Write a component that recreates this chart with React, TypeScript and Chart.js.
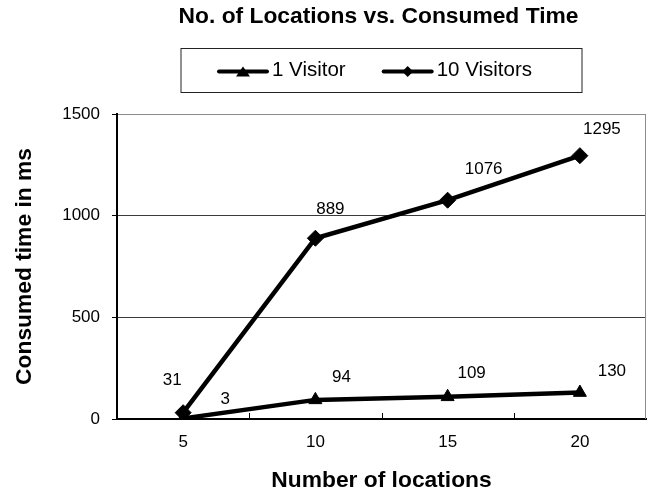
import { useEffect, useRef } from 'react';
import { Chart, registerables } from 'chart.js';

Chart.register(...registerables);

const FONT = '"Liberation Sans", Arial, Helvetica, sans-serif';

const chartTitle = 'No. of Locations vs. Consumed Time';
const locations = ['5', '10', '15', '20'];
const oneVisitor = [3, 94, 109, 130];
const tenVisitors = [31, 889, 1076, 1295];
const yTickValues = [0, 500, 1000, 1500];

// where each value label sits relative to its marker (dx, dy in px)
const oneVisitorLabelShift = [[42, -19], [26, -23], [24, -24], [32, -21]];
const tenVisitorsLabelShift = [[-11, -32], [15, -29], [36, -31], [22, -26]];

function drawTriangle(ctx: CanvasRenderingContext2D, x: number, y: number, w: number, h: number) {
  ctx.beginPath();
  ctx.moveTo(x, y - h / 2);
  ctx.lineTo(x + w / 2, y + h / 2);
  ctx.lineTo(x - w / 2, y + h / 2);
  ctx.closePath();
  ctx.fill();
}

function drawDiamond(ctx: CanvasRenderingContext2D, x: number, y: number, r: number) {
  ctx.beginPath();
  ctx.moveTo(x, y - r);
  ctx.lineTo(x + r, y);
  ctx.lineTo(x, y + r);
  ctx.lineTo(x - r, y);
  ctx.closePath();
  ctx.fill();
}

// Title and boxed legend above the plot
const headerPlugin = {
  id: 'header',
  afterDraw(chart: any) {
    const { ctx, chartArea } = chart;
    const cx = (chartArea.left + chartArea.right) / 2;
    ctx.save();
    ctx.fillStyle = '#000';
    ctx.font = `bold 22.8px ${FONT}`;
    ctx.textAlign = 'center';
    ctx.textBaseline = 'alphabetic';
    ctx.fillText(chartTitle, cx - 3, 23);

    // legend frame
    const boxL = cx - 200.5;
    const boxR = cx + 200.5;
    const boxT = 48.5;
    const boxB = 92.5;
    ctx.strokeStyle = '#222';
    ctx.lineWidth = 1;
    ctx.strokeRect(boxL, boxT, boxR - boxL, boxB - boxT);

    const ly = 71.5;
    let x = boxL + 38;
    ctx.font = `20.5px ${FONT}`;
    ctx.textAlign = 'left';
    ctx.textBaseline = 'middle';
    chart.data.datasets.forEach((ds: any) => {
      ctx.strokeStyle = '#000';
      ctx.lineWidth = 4;
      ctx.lineCap = 'round';
      ctx.beginPath();
      ctx.moveTo(x, ly);
      ctx.lineTo(x + 48, ly);
      ctx.stroke();
      ctx.fillStyle = '#000';
      if (ds.pointStyle === 'triangle') drawTriangle(ctx, x + 24, ly, 14, 10);
      else drawDiamond(ctx, x + 24, ly, 5.5);
      ctx.fillText(ds.label, x + 53, ly - 1);
      x += 53 + ctx.measureText(ds.label).width + 38;
    });
    ctx.restore();
  },
};

// Right frame edge and inward category tick marks
const framePlugin = {
  id: 'frame',
  beforeDatasetsDraw(chart: any) {
    const { ctx, chartArea } = chart;
    const xs = chart.scales.x;
    ctx.save();
    ctx.strokeStyle = '#8c8c8c';
    ctx.lineWidth = 1;
    ctx.beginPath();
    ctx.moveTo(Math.round(chartArea.right) - 0.5, chartArea.top);
    ctx.lineTo(Math.round(chartArea.right) - 0.5, chartArea.bottom);
    ctx.stroke();

    ctx.strokeStyle = '#000';
    ctx.beginPath();
    for (let i = 1; i < locations.length; i++) {
      const bx = Math.round((xs.getPixelForValue(i - 1) + xs.getPixelForValue(i)) / 2) + 0.5;
      ctx.moveTo(bx, chartArea.bottom);
      ctx.lineTo(bx, chartArea.bottom - 6);
    }
    ctx.stroke();
    ctx.restore();
  },
};

// Value labels next to each marker
const valueLabelPlugin = {
  id: 'valueLabels',
  afterDatasetsDraw(chart: any) {
    const { ctx } = chart;
    ctx.save();
    ctx.fillStyle = '#000';
    ctx.font = `17px ${FONT}`;
    ctx.textAlign = 'center';
    ctx.textBaseline = 'middle';
    chart.data.datasets.forEach((ds: any, di: number) => {
      const meta = chart.getDatasetMeta(di);
      const shifts = ds.labelShift as number[][];
      meta.data.forEach((pt: any, i: number) => {
        const [dx, dy] = shifts[i];
        ctx.fillText(String(ds.data[i]), pt.x + dx, pt.y + dy);
      });
    });
    ctx.restore();
  },
};

export default function App() {
  const canvasRef = useRef<HTMLCanvasElement | null>(null);

  useEffect(() => {
    document.body.style.margin = '0';
    const canvas = canvasRef.current;
    if (!canvas) return;

    const chart = new Chart(canvas, {
      type: 'line',
      data: {
        labels: locations,
        datasets: [
          {
            label: '1 Visitor',
            data: oneVisitor,
            borderColor: '#000',
            backgroundColor: '#000',
            borderWidth: 4.5,
            pointStyle: 'triangle',
            pointRadius: 7.5,
            pointBorderWidth: 1,
            pointBackgroundColor: '#000',
            pointBorderColor: '#000',
            tension: 0,
            labelShift: oneVisitorLabelShift,
          } as any,
          {
            label: '10 Visitors',
            data: tenVisitors,
            borderColor: '#000',
            backgroundColor: '#000',
            borderWidth: 4.5,
            pointStyle: 'rectRot',
            pointRadius: 8,
            pointBorderWidth: 1,
            pointBackgroundColor: '#000',
            pointBorderColor: '#000',
            tension: 0,
            labelShift: tenVisitorsLabelShift,
          } as any,
        ],
      },
      options: {
        animation: false,
        responsive: true,
        maintainAspectRatio: false,
        layout: { padding: { top: 114, right: 10, bottom: 0, left: 0 } },
        plugins: {
          legend: { display: false },
          title: { display: false },
          tooltip: { enabled: false },
        },
        scales: {
          x: {
            type: 'category',
            offset: true,
            grid: { display: false, drawTicks: false },
            border: { display: true, color: '#000', width: 2 },
            ticks: {
              color: '#000',
              font: { family: FONT, size: 17 },
              padding: 13,
              maxRotation: 0,
            },
            title: {
              display: true,
              text: 'Number of locations',
              color: '#000',
              font: { family: FONT, size: 22.8, weight: 'bold' },
              padding: { top: 0, bottom: 0 },
            },
            afterFit(scale: any) {
              scale.height = 75;
            },
          },
          y: {
            min: 0,
            max: 1500,
            grid: {
              color: (c: any) => (c.tick && c.tick.value === 1500 ? '#8c8c8c' : '#3a3a3a'),
              lineWidth: 1,
              drawTicks: true,
              tickLength: 5,
              tickColor: '#000',
              tickWidth: 1,
            },
            border: { display: true, color: '#000', width: 2 },
            ticks: {
              color: '#000',
              font: { family: FONT, size: 17 },
              padding: 12,
              callback: (v: any) => String(v),
            },
            afterBuildTicks(scale: any) {
              scale.ticks = yTickValues.map((v) => ({ value: v }));
            },
            title: {
              display: true,
              text: 'Consumed time in ms',
              color: '#000',
              font: { family: FONT, size: 22.8, weight: 'bold' },
              padding: { top: 11, bottom: 0 },
            },
            afterFit(scale: any) {
              scale.width = 117;
            },
          },
        },
      },
      plugins: [framePlugin, valueLabelPlugin, headerPlugin],
    });

    return () => chart.destroy();
  }, []);

  return (
    <div style={{ position: 'relative', width: 656, height: 494, background: '#fff' }}>
      <canvas ref={canvasRef} />
    </div>
  );
}
